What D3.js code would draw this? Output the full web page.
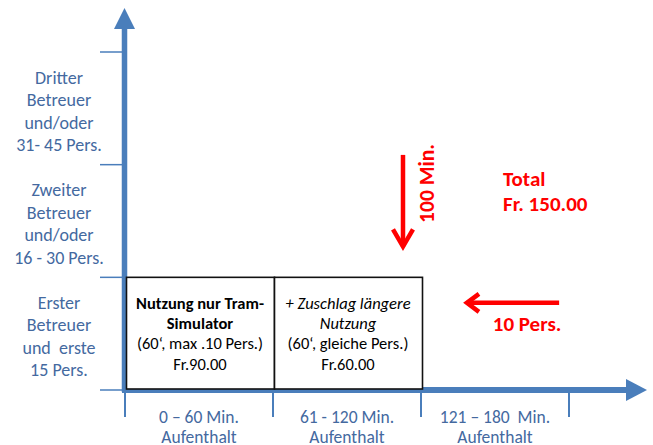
<!DOCTYPE html>
<html>
<head>
<meta charset="utf-8">
<script src="https://cdn.jsdelivr.net/npm/d3@7"></script>
<style>
  body { margin: 0; background: #fff; }
  svg { display: block; font-family: Carlito, Calibri, Lato, sans-serif; }
  svg text { white-space: pre; }
</style>
</head>
<body>
<svg id="chart" width="653" height="445"></svg>
<script>
// minutes on x, persons on y
const minuteTicks = [0, 60, 120, 180];
const personTicks = [0, 15, 30, 45];
const minuteLabels = [
  ["0 \u2013 60 Min.", "Aufenthalt"],
  ["61 - 120 Min.", "Aufenthalt"],
  ["121 \u2013 180  Min.", "Aufenthalt"]
];
const personLabels = [
  ["Erster", "Betreuer", "und  erste", "15 Pers."],
  ["Zweiter", "Betreuer", "und/oder", "16 - 30 Pers."],
  ["Dritter", "Betreuer", "und/oder", "31- 45 Pers."]
];
const boxRanges = [[0, 60], [60, 120]];
const boxPersons = [15, 15];
const boxTexts = [
  [["Nutzung nur Tram-", "b"], ["Simulator", "b"], ["(60\u2018, max .10 Pers.)", ""], ["Fr.90.00", ""]],
  [["+ Zuschlag l\u00e4ngere", "i"], ["Nutzung", "i"], ["(60\u2018, gleiche Pers.)", ""], ["Fr.60.00", ""]]
];
const totalLines = ["Total", "Fr. 150.00"];
const minuteNote = "100 Min.";
const personNote = "10 Pers.";

const blue = "#4a7ebb";
const textBlue = "#44699f";
const red = "#ff0000";

const svg = d3.select("#chart");

const x = d3.scaleLinear().domain([0, 180]).range([125, 569]);
const y = d3.scaleLinear().domain([0, 45]).range([390, 52]);

//Tick marks
svg.selectAll(".ytick").data(personTicks).enter().append("line")
  .attr("x1", 100).attr("x2", x(0))
  .attr("y1", d => y(d)).attr("y2", d => y(d))
  .attr("stroke", blue).attr("stroke-width", 1.5);

svg.selectAll(".xtick").data(minuteTicks).enter().append("line")
  .attr("x1", d => x(d)).attr("x2", d => x(d))
  .attr("y1", y(0)).attr("y2", y(0) + 27)
  .attr("stroke", blue).attr("stroke-width", 2);

//Axes with arrow heads
svg.append("line")
  .attr("x1", x(0) - 0.5).attr("x2", x(0) - 0.5)
  .attr("y1", y(0) + 2).attr("y2", 28)
  .attr("stroke", blue).attr("stroke-width", 5.5);
svg.append("path")
  .attr("d", `M${x(0) - 11},29 L${x(0) - 0.5},8 L${x(0) + 10},29 Z`)
  .attr("fill", blue);

svg.append("line")
  .attr("x1", x(0) - 3).attr("x2", 627)
  .attr("y1", y(0)).attr("y2", y(0))
  .attr("stroke", blue).attr("stroke-width", 6);
svg.append("path")
  .attr("d", `M626,${y(0) - 11} L647,${y(0)} L626,${y(0) + 11} Z`)
  .attr("fill", blue);

//Price boxes
const boxes = svg.selectAll(".box").data(boxRanges).enter().append("g");
boxes.append("rect")
  .attr("x", d => x(d[0]) + 1.5)
  .attr("y", (d, i) => y(boxPersons[i]))
  .attr("width", d => x(d[1]) - x(d[0]))
  .attr("height", (d, i) => y(0) - 1 - y(boxPersons[i]))
  .attr("fill", "#fff")
  .attr("stroke", "#111").attr("stroke-width", 1.6);

boxes.each(function (d, i) {
  const cx = x((d[0] + d[1]) / 2) + 1;
  const cy = y(boxPersons[i] / 2);
  d3.select(this).selectAll("text").data(boxTexts[i]).enter().append("text")
    .attr("x", cx)
    .attr("y", (t, j) => cy + (j - 1.5) * 20.3 + 5.5)
    .attr("text-anchor", "middle")
    .attr("font-size", "16.5px")
    .attr("fill", "#000")
    .attr("font-weight", t => t[1] === "b" ? "bold" : "normal")
    .attr("font-style", t => t[1] === "i" ? "italic" : "normal")
    .text(t => t[0]);
});

//Axis labels
minuteLabels.forEach((lines, i) => {
  const cx = x((minuteTicks[i] + minuteTicks[i + 1]) / 2);
  svg.selectAll(null).data(lines).enter().append("text")
    .attr("x", cx)
    .attr("y", (t, j) => y(0) + 33 + j * 20)
    .attr("text-anchor", "middle")
    .attr("font-size", "17.5px")
    .attr("fill", textBlue)
    .text(t => t);
});

personLabels.forEach((lines, i) => {
  const cy = y((personTicks[i] + personTicks[i + 1]) / 2) + 3;
  svg.selectAll(null).data(lines).enter().append("text")
    .attr("x", 59)
    .attr("y", (t, j) => cy + (j - 1.5) * 22.5 + 6)
    .attr("text-anchor", "middle")
    .attr("font-size", "18px")
    .attr("fill", textBlue)
    .text(t => t);
});

//Red annotations
const downX = x(112.7);
svg.append("line")
  .attr("x1", downX).attr("x2", downX)
  .attr("y1", y(31.3)).attr("y2", y(19.1))
  .attr("stroke", red).attr("stroke-width", 4.5);
svg.append("path")
  .attr("d", `M${downX - 10},${y(21.4)} L${downX},${y(19.1)} L${downX + 10},${y(21.4)}`)
  .attr("fill", "none").attr("stroke", red).attr("stroke-width", 4.5)
  .attr("stroke-linejoin", "miter");

svg.append("text")
  .attr("transform", `translate(${downX + 31},${y(27.5)}) rotate(-90)`)
  .attr("text-anchor", "middle")
  .attr("font-size", "21.5px").attr("font-weight", "bold")
  .attr("fill", red)
  .text(minuteNote);

const leftY = y(11.6);
svg.append("line")
  .attr("x1", x(176)).attr("x2", x(138.6))
  .attr("y1", leftY).attr("y2", leftY)
  .attr("stroke", red).attr("stroke-width", 4.5);
svg.append("path")
  .attr("d", `M${x(143.5)},${leftY - 9} L${x(138.6)},${leftY} L${x(143.5)},${leftY + 9}`)
  .attr("fill", "none").attr("stroke", red).attr("stroke-width", 4.5);

svg.append("text")
  .attr("x", x(163)).attr("y", leftY + 28)
  .attr("text-anchor", "middle")
  .attr("font-size", "21px").attr("font-weight", "bold")
  .attr("fill", red)
  .text(personNote);

svg.selectAll(".total").data(totalLines).enter().append("text")
  .attr("x", 503)
  .attr("y", (t, i) => 186 + i * 25)
  .attr("font-size", "21px").attr("font-weight", "bold")
  .attr("fill", red)
  .text(t => t);
</script>
</body>
</html>
